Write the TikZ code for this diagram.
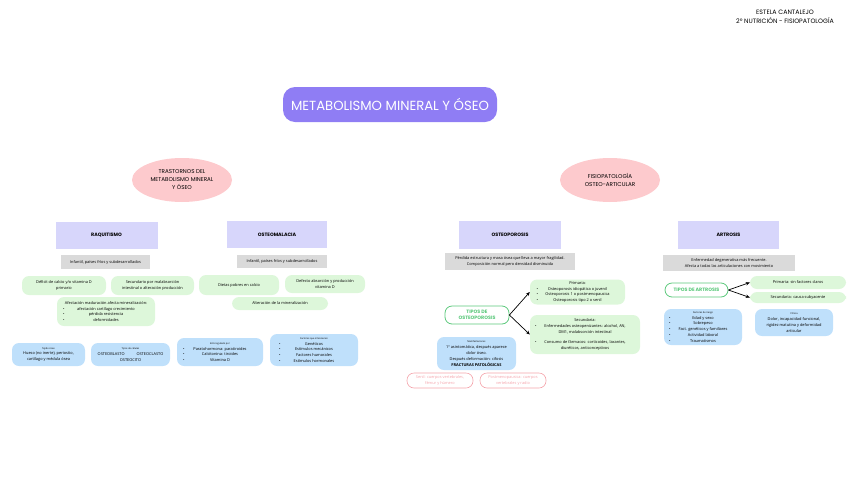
\documentclass[tikz,border=0pt]{standalone}
\usepackage{fontspec}
\setmainfont{Open Sans}
\newfontfamily\popfont{Poppins}
\usetikzlibrary{shapes.geometric,arrows.meta}

\definecolor{titlepurple}{HTML}{8F7DF4}
\definecolor{headlav}{HTML}{D7D6FB}
\definecolor{ellpink}{HTML}{FDCACD}
\definecolor{boxgrey}{HTML}{DADADA}
\definecolor{boxmint}{HTML}{DDF7DA}
\definecolor{boxblue}{HTML}{BFE0FB}
\definecolor{typegreen}{HTML}{5CC97C}
\definecolor{typepink}{HTML}{F4A3AB}

\newcommand\blt[2]{\makebox[#1pt]{\rlap{\textbullet}\hfill #2\hfill}}
\newcommand\tinylbl[1]{{\fontsize{2.4}{3.2}\selectfont #1}}

\tikzset{
  titlebox/.style={fill=titlepurple, rounded corners=12, text=white, minimum width=214, minimum height=35,
    font=\popfont\fontsize{13.2}{15}\selectfont},
  disease/.style={ellipse, fill=ellpink, minimum width=100, minimum height=44, inner sep=0, align=center,
    font=\popfont\fontsize{5.6}{8}\selectfont},
  headbox/.style={fill=headlav, minimum width=102, minimum height=27, font=\popfont\bfseries\fontsize{4.8}{6}\selectfont},
  greybox/.style={fill=boxgrey, inner sep=1, align=center, font=\fontsize{3.9}{5.4}\selectfont},
  mintbox/.style={fill=boxmint, rounded corners=7, inner sep=1, align=center, font=\fontsize{3.9}{5.8}\selectfont},
  bluebox/.style={fill=boxblue, rounded corners=7, inner sep=1, align=center, font=\fontsize{3.9}{5.8}\selectfont},
  typebox/.style={draw=typegreen, line width=0.8, fill=white, rounded corners=7, text=typegreen, inner sep=1,
    align=center, font=\popfont\bfseries\fontsize{4.8}{6.4}\selectfont},
  sitebox/.style={draw=typepink, line width=0.6, rounded corners=7, text=typepink, inner sep=1,
    align=center, font=\fontsize{3.9}{5.2}\selectfont},
  link/.style={-{Stealth[length=4,width=3.5]}, line width=0.7}
}

\begin{document}
\begin{tikzpicture}[x=1pt,y=-1pt]
\useasboundingbox (0,0) rectangle (848,477);

% header and title
\node(author) at (785,16.5) [align=center, font=\popfont\fontsize{6.3}{9}\selectfont]
  {ESTELA CANTALEJO\\2º NUTRICIÓN - FISIOPATOLOGÍA};
\node(title) at (390,104.5) [titlebox] {METABOLISMO MINERAL Y ÓSEO};

\node(trast) at (182,180) [disease] {TRASTORNOS DEL\\METABOLISMO MINERAL\\Y ÓSEO};
\node(fisio) at (610,180) [disease] {FISIOPATOLOGÍA\\OSTEO-ARTICULAR};

% raquitismo
\node(rq) at (106.5,235.5) [headbox] {RAQUITISMO};
\node(rqg) at (105.5,262) [greybox, minimum width=89, minimum height=14] {Infantil, países fríos y subdesarrollados};
\node(rqa) at (64,285.5) [mintbox, minimum width=84, minimum height=19] {Déficit de calcio y/o vitamina D\\primario};
\node(rqb) at (152.5,285.5) [mintbox, minimum width=83, minimum height=19] {Secundario por malabsorción\\intestinal o alteración producción};
\node(rqc) at (106,311.5) [mintbox, minimum width=98, minimum height=29]
  {Afectación maduración afecta mineralización:\\
   \blt{86}{afectación cartílago crecimiento}\\
   \blt{86}{pérdida resistencia}\\
   \blt{86}{deformidades}};

% hueso
\node(bo1) at (48.5,354.5) [bluebox, minimum width=73, minimum height=23]
  {\tinylbl{Tejido óseo}\\Hueso (no inerte), periostio,\\cartílago y médula ósea};
\node(bo2) at (130.5,354.5) [bluebox, minimum width=79, minimum height=23]
  {\tinylbl{Tipos de células}\\OSTEOBLASTO\hspace{12pt}OSTEOCLASTO\\OSTEOCITO};
\node(bo3) at (220,352) [bluebox, minimum width=86, minimum height=28]
  {\tinylbl{Está regulado por}\\
   \blt{74}{Paratohormona: paratiroides}\\
   \blt{74}{Calcitonina: tiroides}\\
   \blt{74}{Vitamina D}};
\node(bo4) at (314,350) [bluebox, minimum width=88, minimum height=32]
  {\tinylbl{Factores que intervienen}\\
   \blt{70}{Genéticos}\\
   \blt{70}{Estímulos mecánicos}\\
   \blt{70}{Factores humorales}\\
   \blt{70}{Estímulos hormonales}};

% osteomalacia
\node(om) at (277,234.5) [headbox, minimum width=100] {OSTEOMALACIA};
\node(omg) at (282,261.5) [greybox, minimum width=90, minimum height=13] {Infantil, países fríos y subdesarrollados};
\node(oma) at (239,285) [mintbox, minimum width=80, minimum height=20] {Dietas pobres en calcio};
\node(omb) at (325,284) [mintbox, minimum width=80, minimum height=18] {Defecto absorción y producción\\vitamina D};
\node(omc) at (280,303.5) [mintbox, minimum width=96, minimum height=13] {Alteración de la mineralización};

% osteoporosis
\node(op) at (510,235) [headbox, minimum height=28] {OSTEOPOROSIS};
\node(opg) at (510,261.5) [greybox, minimum width=130, minimum height=17]
  {Pérdida estructura y masa ósea que lleva a mayor fragilidad.\\Composición normal pero densidad disminuida};
\node(optipos) at (477,315) [typebox, minimum width=64, minimum height=18] {TIPOS DE\\OSTEOPOROSIS};
\node(opp) at (577.5,292) [mintbox, minimum width=95, minimum height=25]
  {Primaria:\\
   \blt{82}{Osteoporosis idiopática o juvenil}\\
   \blt{82}{Osteoporosis 1 o postmenopausica}\\
   \blt{82}{Osteoporosis tipo 2 o senil}};
\node(ops) at (585,334.5) [mintbox, minimum width=110, minimum height=39]
  {Secundaria:\\
   \blt{100}{Enfermedades osteopenizantes: alcohol, AN,}\\
   DM1, malabsorción intestinal\\[4pt]
   \blt{100}{Consumo de fármacos: corticoides, laxantes,}\\
   diuréticos, anticonceptivos};
\node(opm) at (476.5,353.5) [bluebox, minimum width=79, minimum height=33]
  {\tinylbl{Manifestaciones}\\1º asintomática, después aparece\\dolor óseo.\\Después deformación: cifosis\\\textbf{FRACTURAS PATOLÓGICAS}};
\node(site1) at (440,380.5) [sitebox, minimum width=66, minimum height=15] {Senil: cuerpos vertebrales,\\fémur y húmero};
\node(site2) at (513,380.5) [sitebox, minimum width=66, minimum height=15] {Postmenopausica: cuerpos\\vertebrales y radio};
\draw[link] (optipos.east) -- (opp.west);
\draw[link] (optipos.east) -- (ops.west);

% artrosis
\node(ar) at (728.5,235) [headbox, minimum width=101, minimum height=28] {ARTROSIS};
\node(arg) at (729,263) [greybox, minimum width=132, minimum height=16]
  {Enfermedad degenerativa más frecuente.\\Afecta a todas las articulaciones con movimiento};
\node(artipos) at (696.5,290) [typebox, minimum width=63, minimum height=14] {TIPOS DE ARTROSIS};
\node(arp) at (798,282.5) [mintbox, minimum width=96, minimum height=13] {Primaria: sin factores claros};
\node(ars) at (798,297.5) [mintbox, minimum width=96, minimum height=11] {Secundaria: causa subyacente};
\node(arf) at (703,327) [bluebox, minimum width=78, minimum height=36]
  {\tinylbl{Factores de riesgo}\\
   \blt{68}{Edad y sexo}\\
   \blt{68}{Sobrepeso}\\
   \blt{68}{Fact. genéticos y familiares}\\
   \blt{68}{Actividad laboral}\\
   \blt{68}{Traumatismos}};
\node(arc) at (794,322.5) [bluebox, minimum width=78, minimum height=27]
  {\tinylbl{Clínica}\\Dolor, incapacidad funcional,\\rigidez matutina y deformidad\\articular};
\draw[link] (artipos.east) -- (arp.west);
\draw[link] (artipos.east) -- (ars.west);
\end{tikzpicture}
\end{document}
